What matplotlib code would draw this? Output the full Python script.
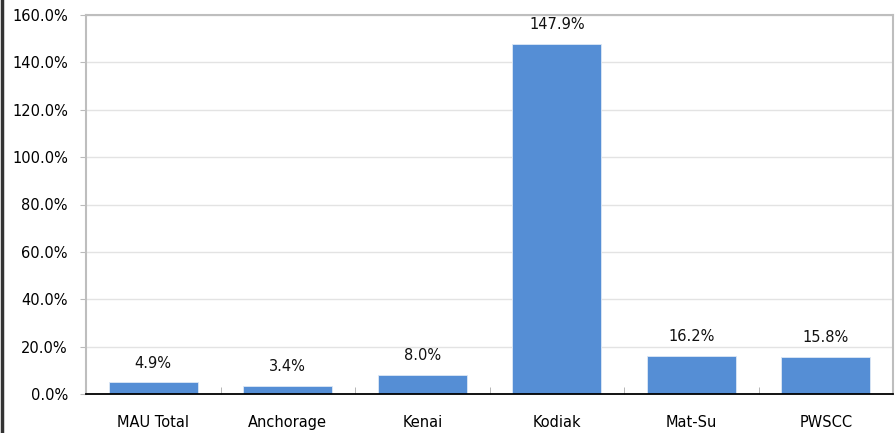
import matplotlib.pyplot as plt
from matplotlib.lines import Line2D
from matplotlib.ticker import FuncFormatter, MultipleLocator

categories = ["MAU Total", "Anchorage", "Kenai", "Kodiak", "Mat-Su", "PWSCC"]
values = [4.9, 3.4, 8.0, 147.9, 16.2, 15.8]

bar_color = "#558ED5"

fig = plt.figure(figsize=(8.96, 4.33), dpi=100)
ax = fig.add_axes([86 / 896, 39 / 433, (893 - 86) / 896, (394 - 15) / 433])

x = range(len(categories))
bars = ax.bar(x, values, width=0.66, color=bar_color, edgecolor="#DDE8F5", linewidth=0.6, zorder=3)

for xi, v in zip(x, values):
    ax.text(xi, v + 5, f"{v:.1f}%", ha="center", va="bottom", fontsize=10.5, color="#111111")

ax.set_xlim(-0.5, len(categories) - 0.5)
ax.set_ylim(0, 160)
ax.yaxis.set_major_locator(MultipleLocator(20))
ax.yaxis.set_major_formatter(FuncFormatter(lambda v, p: f"{v:.1f}%"))
ax.grid(axis="y", color="#E3E3E3", linewidth=1, zorder=0)

# category boundary ticks on the x axis
ax.set_xticks(list(x))
ax.set_xticklabels(categories, fontsize=10.5)
ax.set_xticks([i + 0.5 for i in range(len(categories) - 1)], minor=True)
ax.tick_params(axis="x", which="major", length=0, pad=15)
ax.tick_params(axis="x", which="minor", length=5, color="#AAAAAA", direction="in")
ax.tick_params(axis="y", length=4, color="#BBBBBB", labelsize=10.5, pad=9, direction="out")

for side in ["left", "top", "right"]:
    ax.spines[side].set_color("#BEBEBE")
    ax.spines[side].set_linewidth(1.5)
ax.spines["bottom"].set_color("black")
ax.spines["bottom"].set_linewidth(1.3)
ax.spines["bottom"].set_zorder(4)

# dark frame line at the left edge of the picture
fig.add_artist(Line2D([2 / 896, 2 / 896], [0, 1], color="#333333", linewidth=2.5, transform=fig.transFigure))

fig.savefig("out.png", dpi=100)
